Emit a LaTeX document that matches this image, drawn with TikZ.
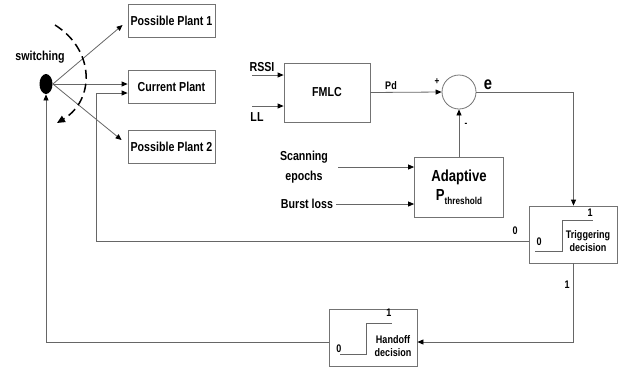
\documentclass[tikz,border=0pt]{standalone}
\usepackage{fontspec}
\setmainfont[FakeStretch=0.82]{Liberation Sans}
\usetikzlibrary{arrows.meta,shapes.geometric}

\begin{document}
\begin{tikzpicture}[x=1pt,y=-1pt,line width=0.8pt,
    font=\fontsize{13}{15}\selectfont\bfseries,
    wire/.style={draw=black!60},
    arr/.style={wire,-{Triangle[length=6pt,width=5pt,color=black]}},
    plant/.style={draw=black!55,minimum width=87pt,minimum height=33pt,inner sep=0pt},
    decbox/.style={draw=black!55,minimum width=88pt,minimum height=57pt,inner sep=0pt},
    lbl/.style={inner sep=0pt},
    small/.style={inner sep=0pt,font=\fontsize{11}{13}\selectfont\bfseries}]
    \useasboundingbox (0,0) rectangle (628,368);
    % plants and switch
    \node[plant] (pp1) at (171.5,20.5) {Possible Plant 1};
    \node[plant] (cur) at (171.5,86.5) {Current Plant};
    \node[plant] (pp2) at (171.5,146.5) {Possible Plant 2};
    \node[ellipse,fill=black,minimum width=13pt,minimum height=20pt,inner sep=0pt] (sw) at (46,84) {};
    \node[lbl] (swl) at (40,57) {switching};
    \draw[arr] (sw.east) -- ([xshift=-5pt,yshift=-4.5pt]pp1.west);
    \draw[arr] (sw.east) -- ([yshift=2.5pt]cur.west);
    \draw[arr] (sw.east) -- ([xshift=-6pt,yshift=6.5pt]pp2.west);
    \coordinate (swa) at (55,25);
    \coordinate (swb) at (57,123);
    \draw[black,line width=1.5pt,dash pattern=on 9pt off 5pt,-{Triangle[length=8pt,width=7pt]}]
        (swa) .. controls (95,50) and (95,100) .. (swb);
    % controller
    \node[plant,minimum width=86pt,minimum height=59pt] (fmlc) at (327,92.5) {FMLC};
    \node[circle,draw=black!55,minimum size=34pt,inner sep=0pt] (sum) at (459,92) {};
    \node[decbox,minimum width=89pt,minimum height=60pt,align=center,
        font=\fontsize{16}{19}\selectfont\bfseries] (adp) at (459,187)
        {Adaptive\\P\raisebox{-0.5ex}{\fontsize{10}{10}\selectfont threshold}};
    \coordinate (rssiin) at (252,75);
    \coordinate (llin) at (252,106);
    \node[lbl] (rssi) at (262,67) {RSSI};
    \node[lbl] (ll) at (257,117) {LL};
    \draw[arr] (rssiin) -- (rssiin -| fmlc.west);
    \draw[arr] (llin) -- (llin -| fmlc.west);
    \node[lbl,align=center,font=\fontsize{13}{20}\selectfont\bfseries] (scan) at (304,167) {Scanning\\epochs};
    \node[lbl] (burst) at (307,204) {Burst loss};
    \draw[arr] ([xshift=10pt]scan.east) -- (scan.east -| adp.west);
    \draw[arr] ([xshift=3pt]burst.east) -- (burst.east -| adp.west);
    \draw[arr] (fmlc.east) -- (sum.west);
    \draw[arr] (adp.north) -- (sum.south);
    \node[small] (pd) at (391,86) {Pd};
    \node[lbl,font=\fontsize{10}{10}\selectfont\bfseries] (plus) at (437,82) {+};
    \node[lbl,font=\fontsize{10}{10}\selectfont\bfseries] (minus) at (466,125) {-};
    \node[lbl,font=\fontsize{18}{18}\selectfont\bfseries] (err) at (488,85) {e};
    % decisions
    \node[decbox] (trig) at (573.5,234.5) {};
    \node[small,align=center] (trigt) at (588,241) {Triggering\\decision};
    \begin{scope}[shift={(trig.center)}]
        \draw[wire] (-38.5,16.5) -| (-11.5,-14.5) -- (19.5,-14.5);
        \node[small] at (-34.5,7.5) {0};
        \node[small] at (16.5,-21.5) {1};
    \end{scope}
    \node[decbox] (hand) at (373,337.5) {};
    \node[small,align=center] (handt) at (393,346) {Handoff\\decision};
    \begin{scope}[shift={(hand.center)}]
        \draw[wire] (-33,16.5) -| (-7,-14.5) -- (19,-14.5);
        \node[small] at (-34,11.5) {0};
        \node[small] at (16,-24.5) {1};
    \end{scope}
    \draw[arr] (sum.east) -| (trig.north);
    \draw[arr] (trig.south) |- ([yshift=-4.5pt]hand.east);
    \draw[arr] ([yshift=-6.5pt]trig.west) -- ++(-433,0) |- ([yshift=-6.5pt]cur.west);
    \draw[arr] ([yshift=-4.5pt]hand.west) -| (sw.south);
    \node[small] (zero) at (515,231) {0};
    \node[small] (one) at (567,285) {1};
\end{tikzpicture}
\end{document}
